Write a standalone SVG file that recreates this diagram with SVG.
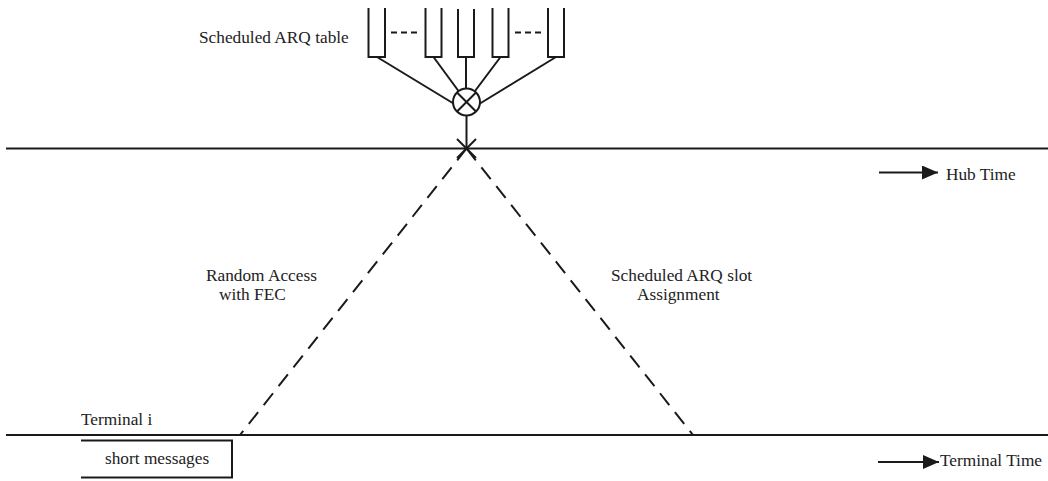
<svg xmlns="http://www.w3.org/2000/svg" width="1048" height="481" viewBox="0 0 1048 481">
<defs>
<style>
.ln{stroke:#1a1a1a;stroke-width:2;fill:none}
.dash{stroke:#1a1a1a;stroke-width:2;fill:none;stroke-dasharray:15 9}
.t{font-family:"Liberation Serif","Times New Roman",serif;font-size:17.3px;fill:#222}
</style>
<marker id="ah" viewBox="0 0 16 14" refX="16" refY="7" markerWidth="16" markerHeight="14" markerUnits="userSpaceOnUse" orient="auto">
<path d="M0,0 L16,7 L0,14 Z" fill="#1a1a1a"/>
</marker>
</defs>
<rect width="1048" height="481" fill="#fff"/>
<g id="hub-line"><line class="ln" x1="6" y1="148.5" x2="1048" y2="148.5"/></g>
<g id="terminal-line"><line class="ln" x1="6" y1="435" x2="1048" y2="435"/></g>
<g id="arq-table">
<path class="ln" d="M368.5,8 V57 H385 V8"/>
<path class="ln" d="M425.5,8 V57 H441.5 V8"/>
<path class="ln" d="M458,9 V57 H474 V9"/>
<path class="ln" d="M492.5,8 V57 H508.5 V8"/>
<path class="ln" d="M548,8 V57 H564 V8"/>
<line class="ln" x1="391" y1="32.5" x2="419" y2="32.5" stroke-dasharray="6 4"/>
<line class="ln" x1="515" y1="32.5" x2="543" y2="32.5" stroke-dasharray="6 4"/>
<text class="t" x="199" y="43">Scheduled ARQ table</text>
</g>
<g id="combiner">
<circle class="ln" cx="466.5" cy="102" r="13.5"/>
<line class="ln" x1="457" y1="92.5" x2="476" y2="111.5"/>
<line class="ln" x1="476" y1="92.5" x2="457" y2="111.5"/>
<line class="ln" x1="466.5" y1="115.5" x2="466.5" y2="148.5"/>
<line class="ln" x1="457" y1="139" x2="476" y2="158"/>
<line class="ln" x1="476" y1="139" x2="457" y2="158"/>
</g>
<g id="connectors">
<line class="ln" x1="377" y1="57" x2="453.5" y2="103.5"/>
<line class="ln" x1="433.5" y1="57" x2="458.5" y2="91"/>
<line class="ln" x1="466" y1="57" x2="466" y2="88.5"/>
<line class="ln" x1="500.5" y1="57" x2="475" y2="91"/>
<line class="ln" x1="556" y1="57" x2="480" y2="103.5"/>
<line class="dash" x1="466.5" y1="148.5" x2="240" y2="435"/>
<line class="dash" x1="466.5" y1="148.5" x2="693" y2="435"/>
<line class="ln" x1="879" y1="172.5" x2="938" y2="172.5" marker-end="url(#ah)"/>
<line class="ln" x1="878" y1="462" x2="939" y2="462" marker-end="url(#ah)"/>
</g>
<g id="labels">
<text class="t" x="206" y="281">Random Access</text>
<text class="t" x="219" y="300">with FEC</text>
<text class="t" x="611" y="281">Scheduled ARQ slot</text>
<text class="t" x="637" y="300">Assignment</text>
<text class="t" x="946" y="180">Hub Time</text>
<text class="t" x="940" y="466">Terminal Time</text>
<text class="t" x="81" y="425">Terminal i</text>
</g>
<g id="short-messages">
<path class="ln" d="M81,440.5 H232 V477.5 H81"/>
<text class="t" x="105" y="464">short messages</text>
</g>
</svg>
